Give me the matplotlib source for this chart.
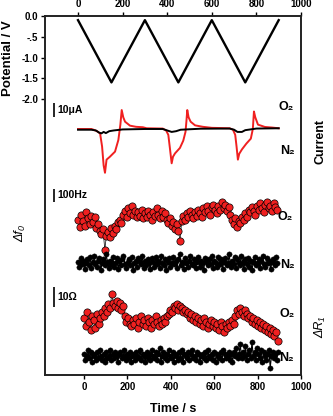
import numpy as np
import matplotlib
matplotlib.use('Agg')
import matplotlib.pyplot as plt

plt.rcParams['font.family'] = ['Liberation Sans', 'DejaVu Sans']

# potential sweep (V) at the vertices of the triangle wave
pot_t = [0, 150, 300, 450, 600, 750, 900]
pot_v = [-0.1, -1.6, -0.1, -1.6, -0.1, -1.6, -0.1]

# current under O2 (uA)
o2_cur_t = [0, 60, 70, 85, 99, 108, 115, 121, 128, 143, 166, 181, 190, 196, 203, 211, 233, 260, 291, 308,
            380, 395, 405, 412, 420, 426, 435, 457, 472, 482, 486, 490, 496, 505, 525, 560, 600,
            680, 695, 705, 711, 717, 723, 735, 755, 775, 784, 789, 795, 807, 838, 870, 900]
o2_cur_i = [0, 0, -0.5, -1.5, -3, -12, -25, -30, -21, -19, -15.5, -7.5, 3, 13, 8, 5, 2.3, 1.5, 1.2, 0.5,
            0.3, -1, -4, -13, -23.5, -19, -16.7, -13, -8, -2, 5, 13, 8, 5, 2.5, 1.5, 0.8,
            0.5, -0.5, -4, -12, -21, -17, -14, -10, -6.6, 0, 12, 8, 3, 1.4, 1, 0.5]

# current under N2 (uA)
n2_cur_t = [0, 60, 80, 95, 105, 115, 125, 140, 160, 200, 300, 380, 400, 420, 440, 460, 550, 680,
            700, 715, 735, 750, 800, 900]
n2_cur_i = [-0.5, -0.5, -1, -2.5, -3, -2, -2.8, -1.5, -1, -0.3, 0, 0, -1, -2, -1.5, -0.5, 0.2, 0.3,
            -0.5, -2, -2, -0.8, 0.3, 0.5]

# frequency shift (Hz), sampled every 7.5 s (O2) and 6 s (N2)
o2_df = [20, -40, 60, 10, -30, 80, 30, -20, 50, 0,
         40, -50, -20, -70, -100, -60, -225, -110, -80, -120,
         -50, -90, -30, -60, 0, 20, -10, 60, 90, 40,
         110, 70, 130, 60, 90, 40, 80, 50, 100, 30,
         70, 40, 90, 60, 20, 80, 50, 110, 60, 30,
         90, 40, 70, 20, -10, 30, -30, 0, -60, -20,
         -70, -150, 10, 50, 20, 70, 40, 90, 60, 30,
         80, 50, 100, 70, 40, 110, 80, 130, 90, 60,
         120, 140, 100, 70, 130, 100, 160, 110, 140, 90,
         120, 60, 20, -20, 30, -40, 10, -10, 40, 20,
         70, 40, 100, 80, 120, 90, 60, 130, 100, 150,
         110, 80, 140, 160, 110, 130, 90, 150, 120, 100]
n2_df = [10, -30, 40, -10, 20, -50, 0, 30, -20, 50,
         -40, 10, 60, -10, -30, 20, 40, -60, 0, 30,
         -20, 70, 10, -40, 20, -10, 50, -30, 0, 40,
         -50, 20, -20, 30, 60, -10, -40, 10, 30, -20,
         50, -60, 0, 20, -30, 40, 10, -10, 60, -40,
         20, -20, 30, 0, -50, 40, 10, -30, 50, -10,
         20, -40, 60, 0, -20, 30, -60, 10, 40, -30,
         0, 50, -10, 20, -40, 30, 70, -20, 10, -50,
         40, 0, -30, 20, 60, -10, -20, 30, -40, 10,
         50, -30, 20, 0, -60, 40, 10, -20, 30, -10,
         60, -40, 20, 0, -30, 50, -10, 30, -50, 10,
         40, -20, 0, 70, -30, 20, -10, 50, -40, 30,
         0, -20, 60, 10, -50, 30, -10, 40, -30, 20,
         -60, 10, 50, -20, 0, 30, -40, 20, 60, -10,
         -30, 40, 0, 20, -50, 10, 30, -20, 50, 0]

# motional resistance change (Ohm)
o2_dr = [1, -3, 4, -1, -5, 2, 0, -4, 3, -2,
         1, 4, 2, 6, 4, 8, 6, 13.5, 9, 7,
         10, 6, 9, 5, 7, 2, -1, 1, -2, -3,
         0, -2, 1, -4, -1, 2, -2, 0, -3, 1,
         -1, -4, 0, -2, 2, -1, -3, 0, -2, 1,
         -1, 2, 3, 5, 4, 7, 6, 8, 5, 7,
         6, 4, 5, 3, 4, 1, 3, 0, 2, -1,
         1, -2, 0, -3, 1, -1, -4, -2, 0, -3,
         -1, -4, -2, -5, -1, -3, -6, -2, -4, -1,
         -3, 0, -2, 2, 5, 3, 6, 4, 2, 5,
         3, 1, 2, -1, 1, -2, 0, -3, -1, -4,
         -2, -5, -3, -6, -4, -7, -5, -8, -6, -11]
n2_dr = [1, -2, 0, 3, -1, 2, -3, 1, 0, -2,
         2, -1, 3, 0, -2, 1, -3, 2, -1, 0,
         3, -2, 1, -1, 2, 0, -3, 1, 2, -1,
         0, 3, -2, 1, -1, 2, -3, 0, 1, -2,
         2, 0, -1, 3, -2, 1, 0, -3, 2, -1,
         1, -2, 3, 0, -1, 2, -2, 1, 4, -3,
         0, 2, -1, 1, -2, 3, 0, -1, 2, -3,
         1, 0, -2, 2, -1, 3, -3, 1, 0, -1,
         2, -2, 1, 3, -1, 0, -2, 2, 1, -3,
         0, 1, -1, 2, -2, 3, 0, -1, 1, -2,
         2, -3, 1, 0, -1, 2, -2, 3, 1, -1,
         0, 2, -2, 1, -3, 2, 0, 4, -1, 1,
         6, -1, 2, 0, 5, -2, 1, 3, -1, 7,
         0, 2, -2, 4, 1, -1, 3, -3, 2, 0,
         -2, 1, 3, -6, 0, 2, -1, 1, -2, 2]

o2_t = np.arange(len(o2_df)) * 7.5
n2_t = np.arange(len(n2_df)) * 6.0

W, H = 333, 416
RED = '#f02020'
fig = plt.figure(figsize=(W / 100, H / 100), dpi=100)

# frame in pixels: x 45..301, y 16..375
rect = [45 / W, (H - 375) / H, 256 / W, 359 / H]
TOP_X = (-148, 1000)
BOT_X = (-180, 1000)


def px(x, y):
    return x / W, 1 - y / H


ax = fig.add_axes(rect)
axb = ax.twiny()   # bottom time axis (twiny resets ax ticks, so set top afterwards)

ax.set_xlim(*TOP_X)
ax.set_ylim(-(375 - 16) / 41.5, 0)
ax.xaxis.tick_top()
ax.set_xticks(range(0, 1001, 200))
ax.set_yticks([0, -0.5, -1.0, -1.5, -2.0])
ax.set_yticklabels(['0.0', '-.5', '-1.0', '-1.5', '-2.0'])
ax.plot(pot_t, pot_v, color='black', lw=1.7)

axb.set_xlim(*BOT_X)
axb.xaxis.tick_bottom()
axb.set_xticks(range(0, 1001, 200))

for a in (ax, axb):
    a.tick_params(direction='out', length=3, width=1, labelsize=7, pad=2)
    for lab in a.get_xticklabels() + a.get_yticklabels():
        lab.set_fontweight('bold')
    for s in a.spines.values():
        s.set_linewidth(1.2)
        s.set_color('#222222')


def overlay(y0, ppu, xlim):
    a = fig.add_axes(rect)
    a.set_xlim(*xlim)
    a.set_ylim(-(375 - y0) / ppu, (y0 - 16) / ppu)
    a.axis('off')
    a.patch.set_alpha(0)
    return a


def scalebar(a, x, top, size, text):
    a.plot([x, x], [top - size, top], color='black', lw=1.2, solid_capstyle='butt')
    a.text(x + 16, top - size / 2, text, fontsize=7.5, fontweight='bold', va='center', ha='left')


# current
ac = overlay(129, 1.46, TOP_X)
ac.plot(o2_cur_t, o2_cur_i, color=RED, lw=1.4)
ac.plot(n2_cur_t, n2_cur_i, color='black', lw=1.4)
scalebar(ac, -108, 18, 10, '10μA')

# frequency shift
af1 = overlay(222, 0.124, TOP_X)
af1.plot(o2_t, o2_df, '-', color='black', lw=0.5, marker='o', ms=5.2,
         mfc=RED, mec='black', mew=0.5)
scalebar(af1, -108, 264, 100, '100Hz')
af2 = overlay(263, 0.124, TOP_X)
af2.plot(n2_t, n2_df, '-', color='black', lw=0.8, marker='o', ms=3.8,
         mfc='black', mec='black', mew=0.3)

# resistance
ar1 = overlay(320, 1.94, BOT_X)
ar1.plot(o2_t, o2_dr, '-', color='black', lw=0.5, marker='o', ms=5.2,
         mfc=RED, mec='black', mew=0.5)
scalebar(ar1, -138, 16.9, 10, '10Ω')
ar2 = overlay(356, 1.94, BOT_X)
ar2.plot(n2_t, n2_dr, '-', color='black', lw=0.8, marker='o', ms=3.8,
         mfc='black', mec='black', mew=0.3)

# gas labels
for (x, y, s) in [(286, 107, 'O₂'), (287, 151, 'N₂'), (285, 217, 'O₂'), (287, 265, 'N₂'),
                  (287, 314, 'O₂'), (286, 358, 'N₂')]:
    fig.text(*px(x, y), s, fontsize=9, fontweight='bold', ha='center', va='center')

# axis titles
fig.text(*px(8, 58), 'Potential / V', rotation=90, fontsize=9.5, fontweight='bold', ha='center', va='center')
fig.text(*px(20, 233), 'Δf₀', rotation=90, fontsize=9, style='italic', ha='center', va='center')
fig.text(*px(320, 142), 'Current', rotation=90, fontsize=9, fontweight='bold', ha='center', va='center')
fig.text(*px(320, 327), 'ΔR₁', rotation=90, fontsize=9, style='italic', ha='center', va='center')
fig.text(*px(173, 409), 'Time / s', fontsize=9, fontweight='bold', ha='center', va='center')

fig.savefig('out.png', dpi=100)
